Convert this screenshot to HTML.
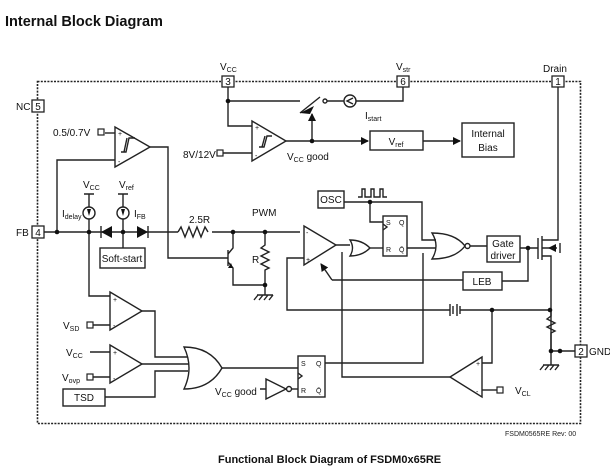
<!DOCTYPE html>
<html><head><meta charset="utf-8"><style>
html,body{margin:0;padding:0;background:#fff;}
svg{display:block;font-family:"Liberation Sans",Arial,sans-serif;}
</style></head><body>
<svg width="610" height="473" viewBox="0 0 610 473" xmlns="http://www.w3.org/2000/svg">
<defs>
<marker id="ar" markerWidth="8" markerHeight="8" refX="7" refY="4" orient="auto" markerUnits="userSpaceOnUse"><path d="M0,0 L8,4 L0,8 z" fill="#111"/></marker>
</defs>
<text x="5" y="26" font-size="14.5" font-weight="bold" fill="#111">Internal Block Diagram</text>
<g stroke="#222" fill="none" stroke-width="1.4">
<rect x="37.5" y="81.5" width="543" height="342" stroke-dasharray="2,1.3" stroke-width="1.6"/>
</g>
<g fill="#fff" stroke="#222" stroke-width="1.3">
<rect x="222" y="76" width="12" height="11"/>
<rect x="397" y="76" width="12" height="11"/>
<rect x="552" y="76" width="12" height="11"/>
<rect x="32" y="100" width="12" height="12"/>
<rect x="32" y="226" width="12" height="12"/>
<rect x="575" y="345" width="12" height="12"/>
</g>
<g font-size="10" fill="#111" text-anchor="middle">
<text x="228" y="85">3</text><text x="403" y="85">6</text><text x="558" y="85">1</text>
<text x="38" y="110">5</text><text x="38" y="236">4</text><text x="581" y="355">2</text>
</g>
<g font-size="10" fill="#111">
<text x="220" y="70">V<tspan font-size="7" dy="2">CC</tspan></text>
<text x="396" y="70">V<tspan font-size="7" dy="2">str</tspan></text>
<text x="543" y="72">Drain</text>
<text x="16" y="110">NC</text>
<text x="16" y="236">FB</text>
<text x="589" y="355">GND</text>
<text x="53" y="136">0.5/0.7V</text>
<text x="183" y="158">8V/12V</text>
<text x="287" y="160">V<tspan font-size="7" dy="2">CC</tspan><tspan dy="-2"> good</tspan></text>
<text x="365" y="119">I<tspan font-size="7" dy="2">start</tspan></text>
<text x="83" y="188">V<tspan font-size="7" dy="2">CC</tspan></text>
<text x="119" y="188">V<tspan font-size="7" dy="2">ref</tspan></text>
<text x="62" y="217">I<tspan font-size="7" dy="2">delay</tspan></text>
<text x="134" y="217">I<tspan font-size="7" dy="2">FB</tspan></text>
<text x="189" y="223">2.5R</text>
<text x="252" y="216">PWM</text>
<text x="252" y="263">R</text>
<text x="63" y="329">V<tspan font-size="7" dy="2">SD</tspan></text>
<text x="66" y="356">V<tspan font-size="7" dy="2">CC</tspan></text>
<text x="62" y="381">V<tspan font-size="7" dy="2">ovp</tspan></text>
<text x="215" y="395">V<tspan font-size="7" dy="2">CC</tspan><tspan dy="-2"> good</tspan></text>
<text x="515" y="394">V<tspan font-size="7" dy="2">CL</tspan></text>
</g>
<g stroke="#222" fill="none" stroke-width="1.4">
<path d="M228,87 V101 H300"/>
<path d="M228,101 V126 H252"/>
<path d="M223,153 H252"/>
<path d="M286,141 H368" marker-end="url(#ar)"/>
<path d="M312,141 V114" marker-end="url(#ar)"/>
<path d="M300,113 L320,97"/>
<path d="M327,101 H344 M356,101 H403 V87"/>
<circle cx="325" cy="101" r="2"/>
<circle cx="350" cy="101" r="6"/>
<path d="M353,98 L347,101 L353,104"/>
<rect x="370" y="131" width="53" height="19"/>
<path d="M423,141 H460" marker-end="url(#ar)"/>
<rect x="462" y="123" width="52" height="34"/>
<path d="M252,121 L286,141 L252,161 Z"/>
<path d="M259,147 h5 l3,-11 h5 M262,147 l3,-11"/>
<path d="M115,127 L150,147 L115,167 Z"/>
<path d="M121,152 h5 l3,-14 h6 M124,152 l3,-14"/>
<path d="M105,133 H115"/>
<path d="M115,160 H57 V232"/>
<path d="M150,147 H168 V258 H228"/>
<path d="M44,232 H178 M212,232 H300"/>
<path d="M178,232 l3,-5 l4,10 l4,-10 l4,10 l4,-10 l4,10 l4,-10 l3,5"/>
<path d="M101,226 V238"/>
<path d="M89,194 V207 M89,219 V296 H110"/>
<path d="M123,194 V207 M123,219 V248"/>
<path d="M84,194 h10 M118,194 h10"/>
<circle cx="89" cy="213" r="6"/><circle cx="123" cy="213" r="6"/>
<rect x="100" y="248" width="45" height="20"/>
<path d="M228,250 V266"/>
<path d="M228,254 L233,248 V232 M228,262 L233,268 V285 H265"/>
<path d="M265,232 V245 l-4,3 l8,4 l-8,4 l8,4 l-8,4 l8,4 l-4,2 V295"/>
<path d="M257,295 h16 M258,295 l-4,5 M263,295 l-4,5 M268,295 l-4,5 M273,295 l-4,5"/>
<path d="M304,226 L336,245 L304,265 Z"/>
<path d="M336,245 H350 M342,252 V377 H450"/>
<path d="M304,258 H287 V310 H450 M460,310 H550"/>
<path d="M450,304 V316 M453,306 V314 M457,304 V316 M460,306 V314"/>
<path d="M332,280 L321,264" marker-end="url(#ar)"/>
<path d="M332,280 H463"/>
<rect x="463" y="272" width="39" height="18"/>
<path d="M502,281 H528 V248"/>
<path d="M350,240 Q362,240 370,248 Q362,256 350,256 Q355,248 350,240 Z"/>
<path d="M370,248 H383"/>
<rect x="383" y="216" width="24" height="40"/>
<path d="M383,224 l4,3 l-4,3"/>
<rect x="318" y="191" width="26" height="17"/>
<path d="M344,202 H422 V240 H436"/>
<path d="M358,197 h4 v-8 h3 v8 h6 v-8 h3 v8 h6 v-8 h3 v8 h4"/>
<path d="M370,202 V222 H383"/>
<path d="M407,248 H436 M423,253 V363 H325"/>
<path d="M432,233 Q455,233 465,246 Q455,259 432,259 Q440,246 432,233 Z"/>
<circle cx="467.5" cy="246" r="2.5"/>
<path d="M470,246 H487"/>
<rect x="487" y="236" width="33" height="26"/>
<path d="M520,248 H538 M538,238 V259"/>
<path d="M542,236 V260 M542,240 H558 V87 M542,256 H551 V351 H575 M542,248 H557"/>
<path d="M560,243 V253"/>
<path d="M551,310 v6 l-4,3 l8,4 l-8,4 l8,4 l-4,2 V365"/>
<path d="M543,365 h16 M544,365 l-4,5 M549,365 l-4,5 M554,365 l-4,5 M559,365 l-4,5"/>
<path d="M492,310 V363 H482"/>
<path d="M482,357 L450,377 L482,397 Z" />
<path d="M482,390 H497"/>
<path d="M110,292 L142,311 L110,330 Z"/>
<path d="M110,345 L142,364 L110,383 Z"/>
<path d="M93,325 H110 M93,377 H110 M90,352 H110"/>
<path d="M142,311 H155 V357 H188 M142,364 H189 M105,397 H155 V371 H188"/>
<rect x="63" y="389" width="42" height="17"/>
<path d="M184,347 Q210,347 222,368 Q210,389 184,389 Q194,368 184,347 Z"/>
<path d="M222,368 H298"/>
<rect x="298" y="356" width="27" height="41"/>
<path d="M298,373 l4,3 l-4,3"/>
<path d="M260,389 H266 M266,379 L286,389 L266,399 Z"/>
<circle cx="289" cy="389" r="2.5"/>
<path d="M291,389 H298"/>
</g>
<g fill="#111">
<path d="M101,232 L112,226 V238 Z"/>
<path d="M148,232 L137,226 V238 Z"/>
<path d="M148,226 V238" stroke="#222" stroke-width="1.4"/>
<path d="M87,209 h4 l-2,7 z M121,209 h4 l-2,7 z"/>
<path d="M300,113 L314,106 L310,114 Z"/>
<path d="M228,268 l5,0 l-2,-5 z"/>
<path d="M548,248 l8,-4 v8 z"/>
<circle cx="57" cy="232" r="2.3"/><circle cx="89" cy="232" r="2.3"/><circle cx="123" cy="232" r="2.3"/>
<circle cx="233" cy="232" r="2.3"/><circle cx="265" cy="232" r="2.3"/><circle cx="265" cy="285" r="2.3"/>
<circle cx="228" cy="101" r="2.3"/><circle cx="312" cy="141" r="2.3"/><circle cx="370" cy="202" r="2.3"/>
<circle cx="528" cy="248" r="2.3"/><circle cx="492" cy="310" r="2.3"/><circle cx="550" cy="310" r="2.3"/>
<circle cx="551" cy="351" r="2.3"/><circle cx="560" cy="351" r="2.3"/>
</g>
<g fill="#fff" stroke="#222" stroke-width="1.2">
<rect x="98" y="129" width="6" height="6"/><rect x="217" y="150" width="6" height="6"/>
<rect x="87" y="322" width="6" height="6"/><rect x="87" y="374" width="6" height="6"/>
<rect x="497" y="387" width="6" height="6"/>
</g>
<g font-size="10" fill="#111" text-anchor="middle">
<text x="396" y="145">V<tspan font-size="7" dy="2">ref</tspan></text>
<text x="488" y="137">Internal</text><text x="488" y="151">Bias</text>
<text x="331" y="203">OSC</text>
<text x="122" y="262">Soft-start</text>
<text x="503" y="247">Gate</text><text x="503" y="259">driver</text>
<text x="482" y="285">LEB</text>
<text x="84" y="401">TSD</text>
</g>
<g font-size="7" fill="#111">
<text x="386" y="225">S</text><text x="399" y="225">Q</text>
<text x="386" y="252">R</text><text x="399" y="252">Q̄</text>
<text x="301" y="366">S</text><text x="316" y="366">Q</text>
<text x="301" y="393">R</text><text x="316" y="393">Q̄</text>
<text x="118" y="136">+</text><text x="118" y="164">-</text>
<text x="255" y="130">+</text><text x="255" y="158">-</text>
<text x="306" y="235">-</text><text x="306" y="262">+</text>
<text x="113" y="302">+</text><text x="113" y="328">-</text>
<text x="113" y="355">+</text><text x="113" y="381">-</text>
<text x="476" y="366">+</text><text x="476" y="394">-</text>
</g>
<text x="505" y="436" font-size="7" fill="#222">FSDM0565RE Rev: 00</text>
<text x="218" y="463" font-size="11" font-weight="bold" fill="#111">Functional Block Diagram of FSDM0x65RE</text>
</svg>
</body></html>
